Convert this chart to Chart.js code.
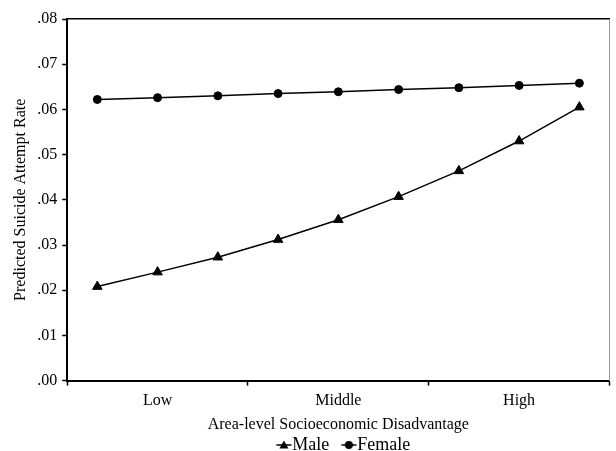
<!DOCTYPE html>
<html>
<head>
<meta charset="utf-8">
<script src="https://cdn.jsdelivr.net/npm/chart.js@4/dist/chart.umd.min.js"></script>
<style>
  html, body { margin: 0; padding: 0; background: #fff; }
  #wrap { width: 616px; height: 451px; }
</style>
</head>
<body>
<div id="wrap"><canvas id="chart" width="616" height="451"></canvas></div>
<script>
// nine equally spaced points, three per category group
var xPos = [0.5, 1.5, 2.5, 3.5, 4.5, 5.5, 6.5, 7.5, 8.5];
var groupLabels = ["Low", "Middle", "High"];
var groupCentres = [1.5, 4.5, 7.5];
var groupEdges = [0, 3, 6, 9];
var maleRate = [0.0208, 0.0240, 0.0273, 0.0312, 0.0356, 0.0407, 0.0464, 0.0530, 0.0605];
var femaleRate = [0.0622, 0.0626, 0.0630, 0.0635, 0.0639, 0.0644, 0.0648, 0.0653, 0.0658];

var serif = "'Liberation Serif', 'Times New Roman', serif";
Chart.defaults.font.family = serif;
Chart.defaults.color = "#000";

function toPoints(vals) {
    return vals.map(function (v, i) { return { x: xPos[i], y: v }; });
}

// no extra side padding on the horizontal axes
function noSidePadding(axis) {
    axis.paddingLeft = 0;
    axis.paddingRight = 0;
}

// legend symbol: short line with the marker on it, left part blank as the item gap
function legendSymbol(style) {
    var c = document.createElement("canvas");
    c.width = 34; c.height = 12;
    var g = c.getContext("2d");
    var x0 = 18.5, x1 = 33.5, cx = 26;
    g.strokeStyle = "#000";
    g.lineWidth = 1.5;
    g.beginPath(); g.moveTo(x0, 6); g.lineTo(x1, 6); g.stroke();
    g.fillStyle = "#000";
    g.beginPath();
    if (style === "triangle") {
        g.moveTo(cx, 1.5); g.lineTo(cx + 4.5, 9.5); g.lineTo(cx - 4.5, 9.5); g.closePath();
    } else {
        g.arc(cx, 6, 4, 0, Math.PI * 2);
    }
    g.fill();
    return c;
}

var ctx = document.getElementById("chart");
new Chart(ctx, {
    type: "line",
    data: {
        datasets: [
            {
                label: "Male",
                data: toPoints(maleRate),
                borderColor: "#000",
                backgroundColor: "#000",
                borderWidth: 1.5,
                pointStyle: "triangle",
                pointRadius: 5.5,
                pointBorderWidth: 1,
                tension: 0
            },
            {
                label: "Female",
                data: toPoints(femaleRate),
                borderColor: "#000",
                backgroundColor: "#000",
                borderWidth: 1.5,
                pointStyle: "circle",
                pointRadius: 4,
                pointBorderWidth: 1,
                tension: 0
            }
        ]
    },
    options: {
        responsive: false,
        animation: false,
        layout: { padding: { left: 11, right: 0, top: 19, bottom: -13 } },
        plugins: {
            tooltip: { enabled: false },
            legend: {
                position: "bottom",
                fullSize: false,
                labels: {
                    usePointStyle: true,
                    pointStyleWidth: 17,
                    padding: 2,
                    font: { size: 18, family: serif },
                    generateLabels: function (chart) {
                        return chart.data.datasets.map(function (ds, i) {
                            return {
                                text: ds.label,
                                datasetIndex: i,
                                fillStyle: "#000",
                                strokeStyle: "#000",
                                lineWidth: 0,
                                pointStyle: legendSymbol(ds.pointStyle),
                                fontColor: "#000"
                            };
                        });
                    }
                }
            }
        },
        scales: {
            x: {
                type: "linear",
                min: 0,
                max: 9,
                afterFit: noSidePadding,
                afterBuildTicks: function (axis) {
                    axis.ticks = groupEdges.concat(groupCentres).sort(function (a, b) { return a - b; })
                        .map(function (v) { return { value: v }; });
                },
                ticks: {
                    autoSkip: false,
                    maxRotation: 0,
                    padding: 6,
                    font: { size: 16, family: serif },
                    callback: function (v) {
                        var k = groupCentres.indexOf(v);
                        return k >= 0 ? groupLabels[k] : "";
                    }
                },
                grid: {
                    drawOnChartArea: false,
                    tickLength: 5,
                    tickWidth: 1.5,
                    tickColor: function (c) {
                        return groupEdges.indexOf(c.tick.value) >= 0 ? "#000" : "rgba(0,0,0,0)";
                    }
                },
                border: { color: "#000", width: 2 },
                title: {
                    display: true,
                    text: "Area-level Socioeconomic Disadvantage",
                    font: { size: 16, family: serif },
                    padding: { top: -2, bottom: 0 }
                }
            },
            x2: {
                type: "linear",
                position: "top",
                min: 0,
                max: 9,
                afterFit: noSidePadding,
                ticks: { display: false },
                grid: { drawOnChartArea: false, drawTicks: false },
                border: { color: "#000", width: 1.5 }
            },
            y: {
                min: 0,
                max: 0.08,
                ticks: {
                    stepSize: 0.01,
                    padding: 5,
                    font: { size: 16, family: serif },
                    callback: function (v) { return v.toFixed(2).replace(/^0/, ""); }
                },
                grid: { drawOnChartArea: false, tickLength: 5, tickWidth: 1.5, tickColor: "#000" },
                border: { color: "#000", width: 2 },
                title: {
                    display: true,
                    text: "Predicted Suicide Attempt Rate",
                    font: { size: 16, family: serif },
                    padding: { top: 0, bottom: 2 }
                }
            },
            y2: {
                position: "right",
                min: 0,
                max: 0.08,
                afterFit: function (axis) { axis.width = 1; },
                ticks: { display: false, padding: 0 },
                grid: { drawOnChartArea: false, drawTicks: false },
                border: { color: "#999", width: 1 }
            }
        }
    }
});
</script>
</body>
</html>
